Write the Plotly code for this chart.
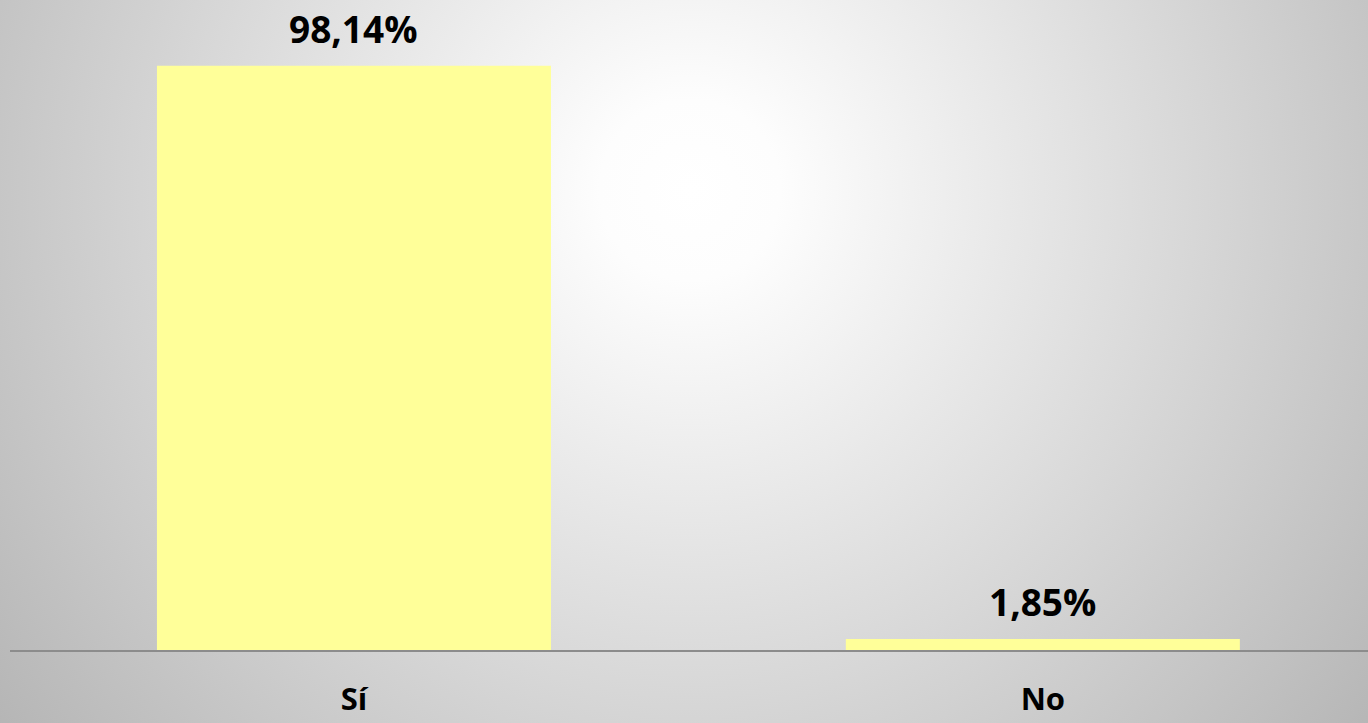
import plotly.graph_objects as go
import urllib.parse

categories = ["Sí", "No"]
values = [98.14, 1.85]
labels = ["98,14%", "1,85%"]

W, H = 1368, 723
ml, mr, mt, mb = 10, 0, 0, 73

svg = (
    f'<svg xmlns="http://www.w3.org/2000/svg" width="{W}" height="{H}" viewBox="0 0 {W} {H}">'
    '<defs><radialGradient id="g" gradientUnits="userSpaceOnUse" cx="690" cy="190" r="900">'
    '<stop offset="0" stop-color="#ffffff"/>'
    '<stop offset="0.1" stop-color="#fdfdfd"/>'
    '<stop offset="1" stop-color="#b3b3b3"/>'
    '</radialGradient></defs>'
    f'<rect x="0" y="0" width="{W}" height="{H}" fill="url(#g)"/></svg>'
)
bg = "data:image/svg+xml;charset=utf-8," + urllib.parse.quote(svg)

pw = W - ml - mr
ph = H - mt - mb

fig = go.Figure()
fig.add_trace(go.Bar(
    x=categories, y=values,
    marker=dict(color="#FFFF99", line=dict(width=0)),
    width=0.572,
    hoverinfo="skip",
))

for c, v, t in zip(categories, values, labels):
    fig.add_annotation(
        x=c, y=v, text=f"<b>{t}</b>", showarrow=False,
        yanchor="bottom", yshift=10,
        font=dict(family="Open Sans", size=37, color="#000000"),
    )

fig.add_layout_image(dict(
    source=bg, xref="paper", yref="paper",
    x=-ml / pw, y=1 + mt / ph, sizex=W / pw, sizey=H / ph,
    xanchor="left", yanchor="top", sizing="stretch", layer="below",
))

fig.update_layout(
    width=W, height=H,
    margin=dict(l=ml, r=mr, t=mt, b=mb, autoexpand=False),
    paper_bgcolor="#cccccc",
    plot_bgcolor="rgba(0,0,0,0)",
    showlegend=False,
    xaxis=dict(
        range=[-0.4993, 1.472], automargin=False,
        showline=True, linecolor="#8c8c8c", linewidth=2,
        ticks="", showgrid=False, zeroline=False,
        tickfont=dict(family="Open Sans", size=31, color="#000000"),
        ticklabelstandoff=21,
    ),
    yaxis=dict(
        range=[0, 109.2], visible=False, showgrid=False, zeroline=False,
        automargin=False,
    ),
)
fig.update_xaxes(tickvals=categories, ticktext=[f"<b>{c}</b>" for c in categories])

fig.write_html(
    "out.html",
    config={"displayModeBar": False},
    post_script="document.body.style.margin='0';document.body.style.overflow='hidden';",
)
